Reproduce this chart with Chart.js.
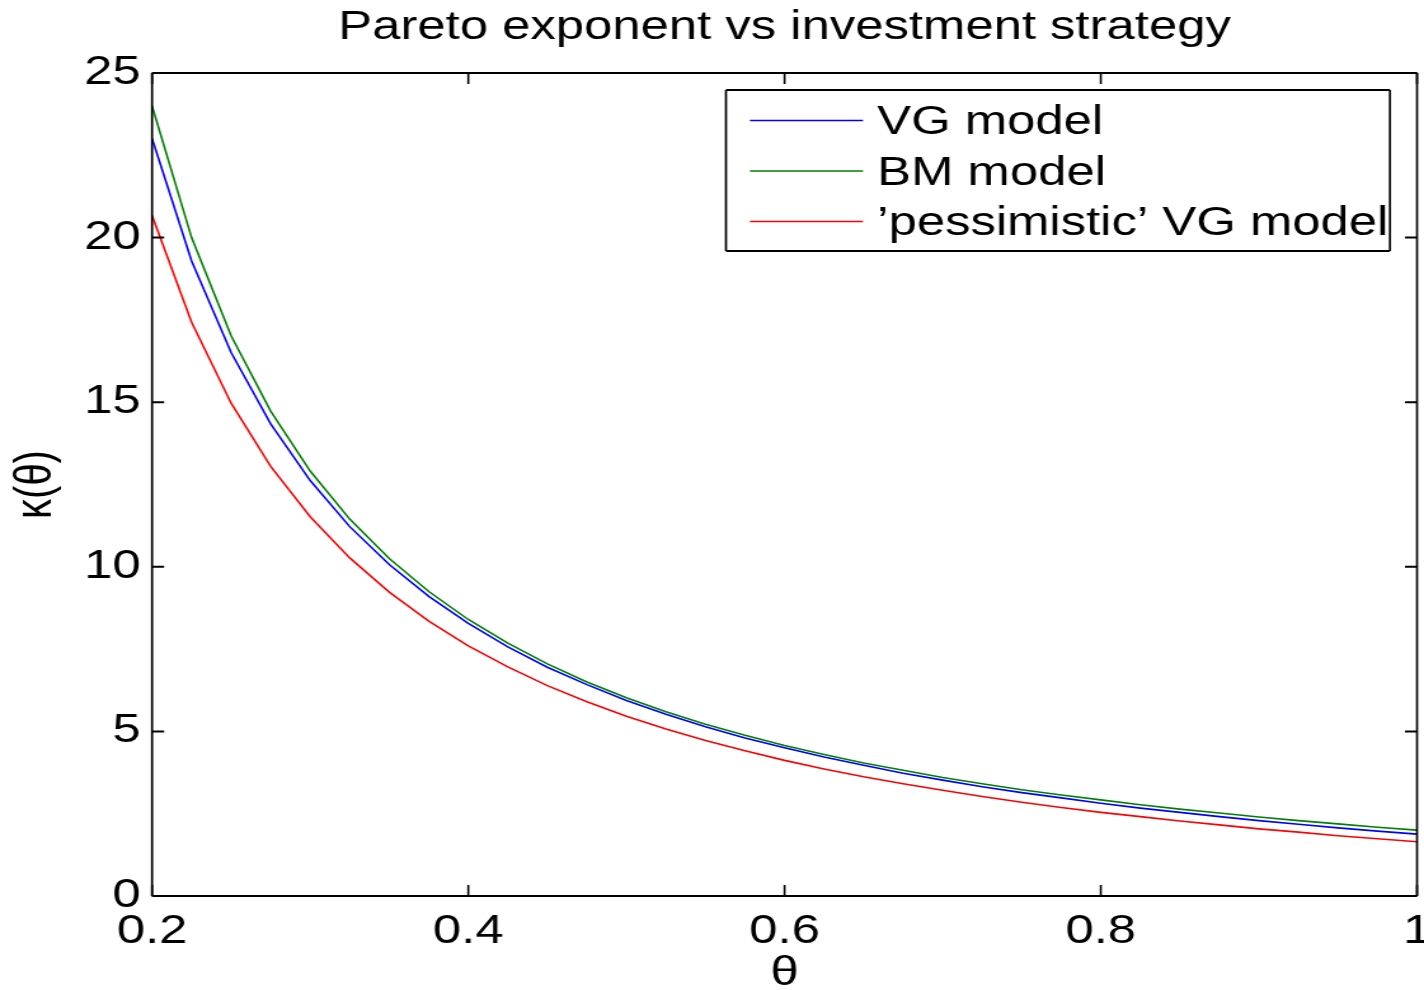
<!DOCTYPE html>
<html>
<head>
<meta charset="utf-8">
<script src="https://cdn.jsdelivr.net/npm/chart.js@4.4.1/dist/chart.umd.min.js"></script>
<style>
html,body{margin:0;padding:0;background:#fff;overflow:hidden}
#c{display:block;width:1424px;height:990px}
</style>
</head>
<body>
<canvas id="c" width="1121" height="990" style="width:1424px;height:990px"></canvas>
<script>
const theta = [0.2,0.225,0.25,0.275,0.3,0.325,0.35,0.375,0.4,0.425,0.45,0.475,0.5,0.525,0.55,0.575,0.6,0.625,0.65,0.675,0.7,0.725,0.75,0.775,0.8,0.825,0.85,0.875,0.9,0.925,0.95,0.975,1];
const vgModel = [23.01,19.29,16.51,14.34,12.62,11.22,10.07,9.10,8.28,7.57,6.95,6.42,5.94,5.52,5.14,4.80,4.50,4.22,3.97,3.73,3.52,3.32,3.14,2.98,2.82,2.67,2.54,2.41,2.29,2.18,2.07,1.97,1.88];
const bmModel = [24.00,20.00,17.02,14.73,12.91,11.45,10.25,9.25,8.40,7.68,7.05,6.50,6.02,5.60,5.22,4.88,4.57,4.30,4.04,3.82,3.60,3.41,3.23,3.07,2.92,2.77,2.64,2.52,2.40,2.29,2.19,2.09,2.00];
const pessimisticVG = [20.67,17.43,14.97,13.05,11.52,10.27,9.23,8.35,7.60,6.96,6.39,5.90,5.46,5.07,4.72,4.41,4.12,3.86,3.62,3.41,3.21,3.02,2.85,2.69,2.54,2.41,2.28,2.16,2.04,1.94,1.83,1.74,1.65];
const seriesLabels = ['VG model', 'BM model', '\u2019pessimistic\u2019 VG model'];
const seriesColors = ['#0000ff', '#008000', '#ff0000'];
const xTicks = [0.2, 0.4, 0.6, 0.8, 1];
const xTickLabels = ['0.2', '0.4', '0.6', '0.8', '1'];
const yTicks = [0, 5, 10, 15, 20, 25];
const yTickLabels = ['0', '5', '10', '15', '20', '25'];
const chartTitle = 'Pareto exponent vs investment strategy';
const xTitle = '\u03b8';
const yTitle = '\u03ba(\u03b8)';

const FONT = '"Liberation Sans", Arial, Helvetica, sans-serif';
Chart.defaults.font.family = FONT;
Chart.defaults.color = '#000';

function pts(arr) { return theta.map((t, i) => ({ x: t, y: arr[i] })); }
const seriesData = [vgModel, bmModel, pessimisticVG];

const framePlugin = {
  id: 'matlabFrame',
  afterDatasetsDraw(chart) {
    const ctx = chart.ctx;
    const a = chart.chartArea;
    const xs = chart.scales.x, ys = chart.scales.y;
    ctx.save();
    ctx.strokeStyle = '#000';
    ctx.lineWidth = 1.6;
    const tlV = 11, tlH = 9.5;
    ctx.beginPath();
    xs.ticks.forEach(t => {
      const px = xs.getPixelForValue(t.value);
      ctx.moveTo(px, a.bottom); ctx.lineTo(px, a.bottom - tlV);
      ctx.moveTo(px, a.top); ctx.lineTo(px, a.top + tlV);
    });
    ctx.stroke();
    ctx.lineWidth = 2;
    ctx.beginPath();
    ys.ticks.forEach(t => {
      const py = ys.getPixelForValue(t.value);
      ctx.moveTo(a.left, py); ctx.lineTo(a.left + tlH, py);
      ctx.moveTo(a.right, py); ctx.lineTo(a.right - tlH, py);
    });
    ctx.stroke();
    ctx.lineWidth = 2;
    ctx.beginPath();
    ctx.moveTo(a.left, a.top); ctx.lineTo(a.right, a.top);
    ctx.moveTo(a.left, a.bottom); ctx.lineTo(a.right, a.bottom);
    ctx.stroke();
    ctx.lineWidth = 1.7;
    ctx.beginPath();
    ctx.moveTo(a.left, a.top); ctx.lineTo(a.left, a.bottom);
    ctx.moveTo(a.right, a.top); ctx.lineTo(a.right, a.bottom);
    ctx.stroke();

    const bx = 571.5, by = 90, bw = 522.7, bh = 161;
    ctx.fillStyle = '#fff';
    ctx.fillRect(bx, by, bw, bh);
    ctx.strokeStyle = '#000';
    ctx.lineWidth = 2;
    ctx.beginPath();
    ctx.moveTo(bx, by); ctx.lineTo(bx + bw, by);
    ctx.moveTo(bx, by + bh); ctx.lineTo(bx + bw, by + bh);
    ctx.stroke();
    ctx.lineWidth = 1.7;
    ctx.beginPath();
    ctx.moveTo(bx, by); ctx.lineTo(bx, by + bh);
    ctx.moveTo(bx + bw, by); ctx.lineTo(bx + bw, by + bh);
    ctx.stroke();
    const rows = [121, 171.5, 222];
    ctx.font = '40px ' + FONT;
    ctx.textBaseline = 'middle';
    ctx.textAlign = 'left';
    chart.data.datasets.forEach((ds, i) => {
      const ry = rows[i];
      ctx.strokeStyle = ds.borderColor;
      ctx.lineWidth = 1.6;
      ctx.beginPath();
      ctx.moveTo(590.4, ry - 0.5); ctx.lineTo(679.4, ry - 0.5);
      ctx.stroke();
      ctx.fillStyle = '#000';
      ctx.fillText(ds.label, 690.5, ry + 2);
    });
    ctx.restore();
  }
};

const chart = new Chart(document.getElementById('c'), {
  type: 'line',
  data: {
    datasets: seriesData.map((arr, i) => ({
      label: seriesLabels[i],
      data: pts(arr),
      borderColor: seriesColors[i],
      backgroundColor: seriesColors[i],
      borderWidth: 1.6,
      pointRadius: 0,
      tension: 0,
      fill: false,
      order: 3 - i
    }))
  },
  options: {
    responsive: false,
    animation: false,
    devicePixelRatio: 1,
    layout: { padding: { left: 0, right: 5.5, top: 0, bottom: 0 } },
    plugins: {
      legend: { display: false },
      tooltip: { enabled: false },
      title: {
        display: true,
        text: chartTitle,
        fullSize: false,
        color: '#000',
        font: { size: 40, weight: 'normal', family: FONT, lineHeight: 1.2 },
        padding: { top: 4, bottom: 21 }
      }
    },
    scales: {
      x: {
        type: 'linear',
        min: 0.2,
        max: 1,
        afterBuildTicks: s => { s.ticks = xTicks.map(v => ({ value: v })); },
        afterFit: s => { s.height = 94; s.paddingLeft = 0; s.paddingRight = 0; },
        ticks: {
          autoSkip: false,
          maxRotation: 0,
          padding: 12,
          color: '#000',
          font: { size: 40, family: FONT, lineHeight: 1.2 },
          callback: (v, i) => xTickLabels[i]
        },
        grid: { display: false, drawTicks: false },
        border: { display: false },
        title: {
          display: true,
          text: xTitle,
          color: '#000',
          font: { size: 40, family: FONT, lineHeight: 0.8 },
          padding: { top: 0, bottom: 0 }
        }
      },
      y: {
        type: 'linear',
        min: 0,
        max: 25,
        afterBuildTicks: s => { s.ticks = yTicks.map(v => ({ value: v })); },
        afterFit: s => { s.width = 119.7; s.paddingTop = 0; s.paddingBottom = 0; },
        ticks: {
          autoSkip: false,
          padding: 9,
          color: '#000',
          font: { size: 40, family: FONT, lineHeight: 1.2 },
          callback: (v, i) => yTickLabels[i]
        },
        grid: { display: false, drawTicks: false },
        border: { display: false },
        title: {
          display: true,
          text: yTitle,
          color: '#000',
          font: { size: 40, family: FONT, lineHeight: 1.2 },
          padding: { top: 4.7, bottom: 0 }
        }
      }
    }
  },
  plugins: [framePlugin]
});
const cv = document.getElementById('c');
cv.style.width = '1424px';
cv.style.height = '990px';
</script>
</body>
</html>
